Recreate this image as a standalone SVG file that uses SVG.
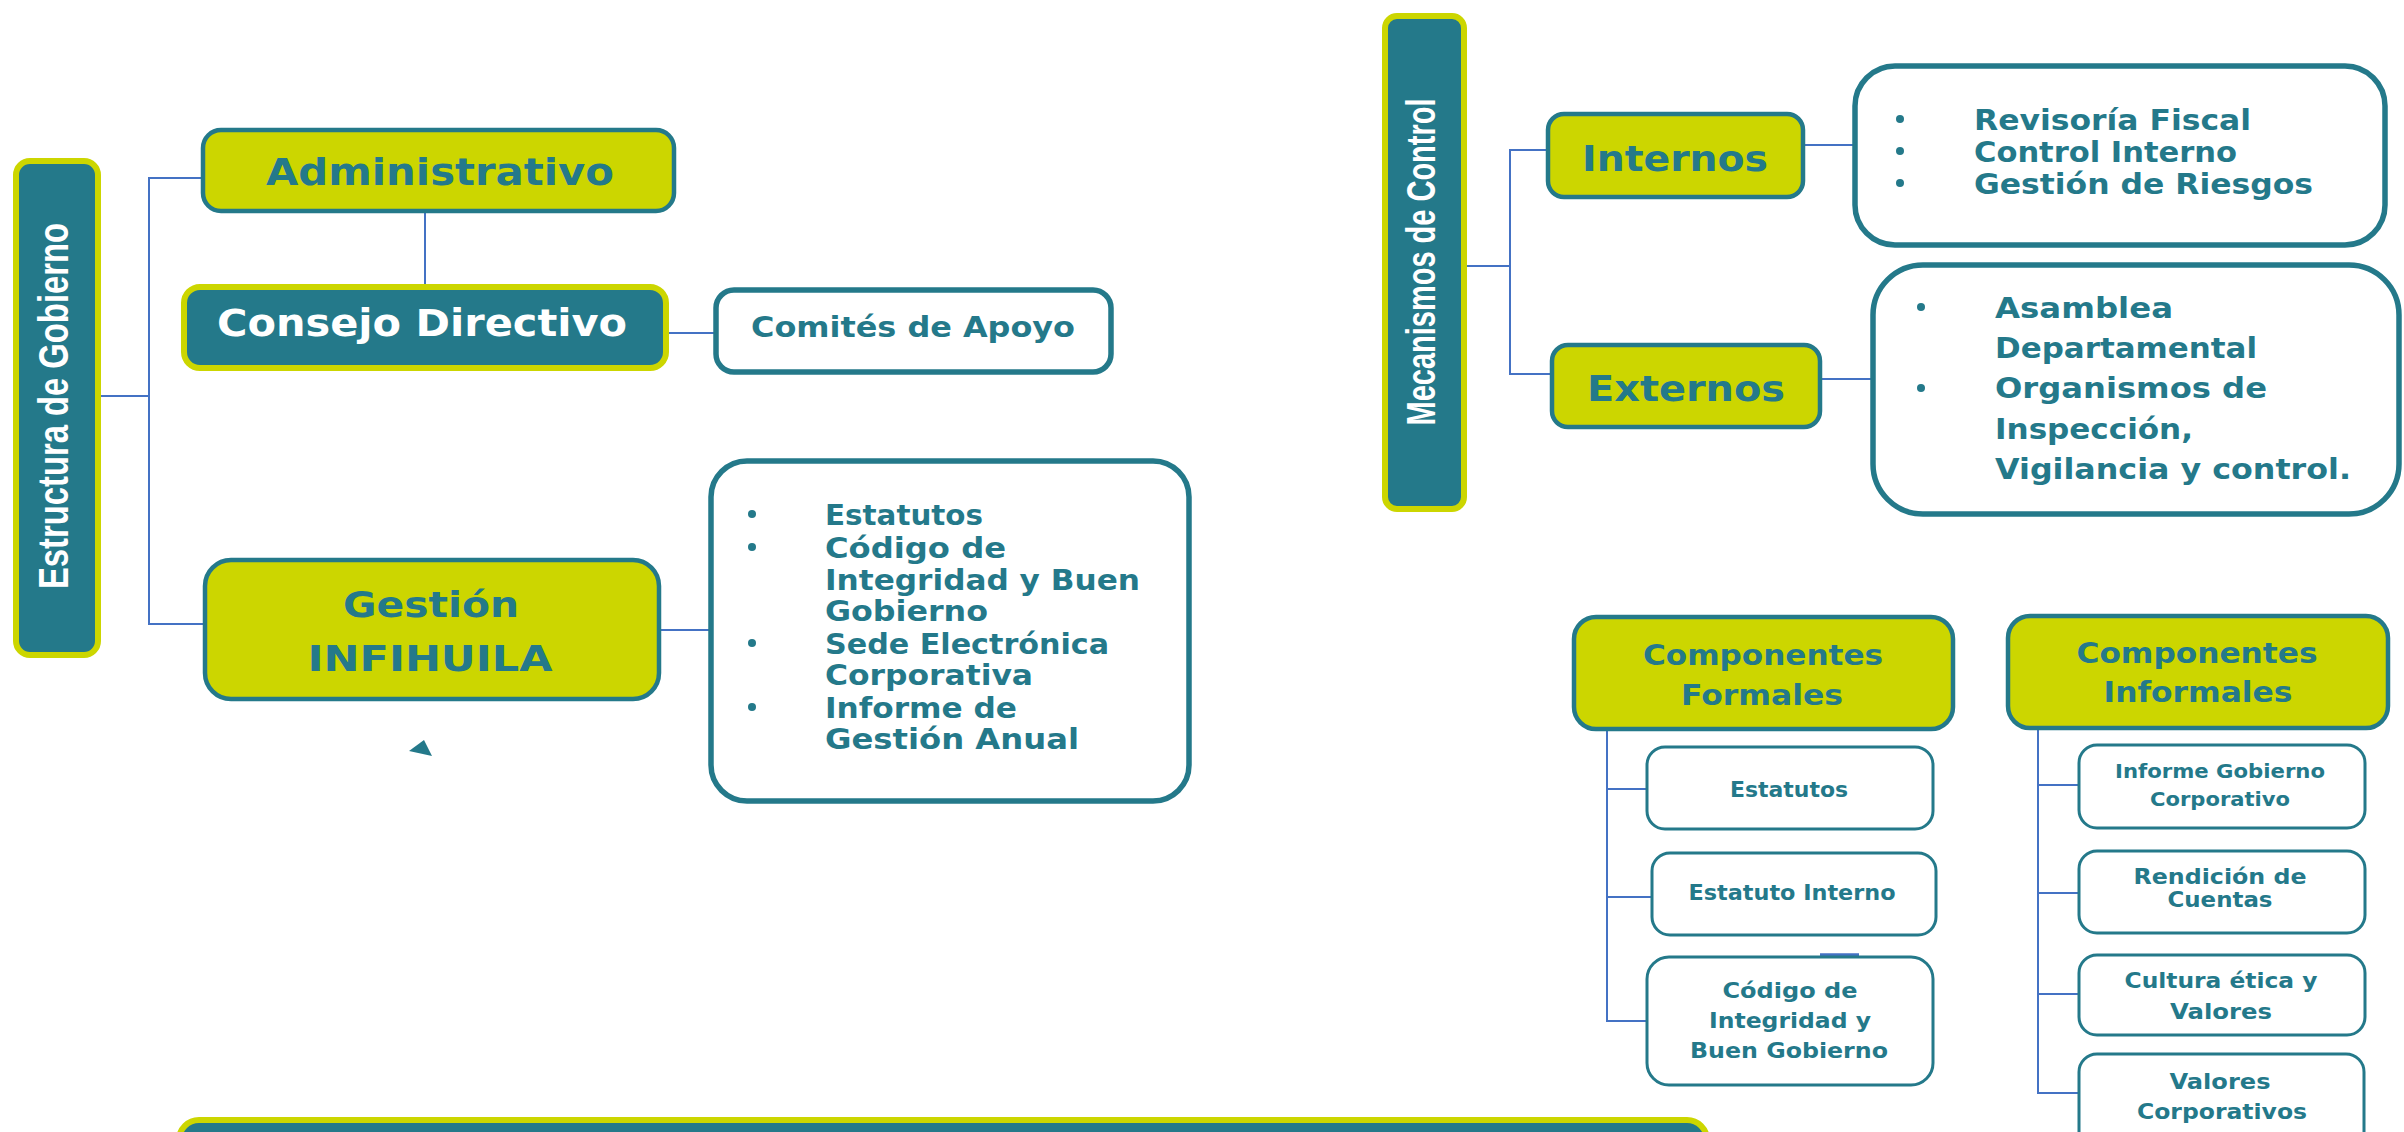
<svg xmlns="http://www.w3.org/2000/svg" width="2404" height="1132" viewBox="0 0 2404 1132">
<style>
.bg{fill:#ffffff}
.yb{fill:#CCD600;stroke:#24798A;stroke-width:4.5}
.tb{fill:#24798A;stroke:#CCD600;stroke-width:6}
.wb{fill:#ffffff;stroke:#24798A;stroke-width:5.5}
.sb{fill:#ffffff;stroke:#24798A;stroke-width:3}
.c{fill:none;stroke:#4472C4;stroke-width:2}
.t{font-family:"DejaVu Sans","Liberation Sans",sans-serif;font-weight:bold;fill:#24798A}
.w{font-family:"DejaVu Sans","Liberation Sans",sans-serif;font-weight:bold;fill:#ffffff}
.v{font-family:"Liberation Sans","DejaVu Sans",sans-serif;font-weight:bold;fill:#ffffff}
.m{text-anchor:middle}
.dot{fill:#24798A}
</style>
<rect class="bg" x="0" y="0" width="2404" height="1132"/>

<g id="connectors">
  <polyline class="c" points="100,396 149,396"/>
  <polyline class="c" points="203,178 149,178 149,624 204,624"/>
  <line class="c" x1="425" y1="212" x2="425" y2="286"/>
  <line class="c" x1="667" y1="333" x2="716" y2="333"/>
  <line class="c" x1="659" y1="630" x2="710" y2="630"/>
  <polyline class="c" points="1464,266 1510,266"/>
  <polyline class="c" points="1548,150 1510,150 1510,374 1552,374"/>
  <line class="c" x1="1803" y1="145" x2="1854" y2="145"/>
  <line class="c" x1="1820" y1="379" x2="1872" y2="379"/>
  <polyline class="c" points="1607,730 1607,1021 1647,1021"/>
  <line class="c" x1="1607" y1="789" x2="1647" y2="789"/>
  <line class="c" x1="1607" y1="897" x2="1652" y2="897"/>
  <polyline class="c" points="2038,728 2038,1093 2079,1093"/>
  <line class="c" x1="2038" y1="785" x2="2079" y2="785"/>
  <line class="c" x1="2038" y1="893" x2="2079" y2="893"/>
  <line class="c" x1="2038" y1="994" x2="2079" y2="994"/>
  <line x1="1820" y1="955" x2="1859" y2="955" stroke="#4472C4" stroke-width="3.5"/>
</g>

<g id="estructura-gobierno">
  <rect class="tb" x="16" y="161" width="82" height="494" rx="14"/>
  <text class="v m" transform="translate(68,406) rotate(-90)" font-size="42" textLength="366" lengthAdjust="spacingAndGlyphs">Estructura de Gobierno</text>
</g>

<g id="administrativo">
  <rect class="yb" x="203" y="130" width="471" height="81" rx="18"/>
  <text class="t m" x="440" y="185" font-size="38" textLength="348" lengthAdjust="spacingAndGlyphs">Administrativo</text>
</g>

<g id="consejo-directivo">
  <rect class="tb" x="184" y="287" width="482" height="81" rx="16"/>
  <text class="w m" x="422" y="336" font-size="37" textLength="410" lengthAdjust="spacingAndGlyphs">Consejo Directivo</text>
</g>

<g id="comites-apoyo">
  <rect class="wb" x="716" y="290" width="395" height="82" rx="18"/>
  <text class="t m" x="913" y="337" font-size="29" textLength="324" lengthAdjust="spacingAndGlyphs">Comités de Apoyo</text>
</g>

<g id="gestion-infihuila">
  <rect class="yb" x="205" y="560" width="454" height="139" rx="26"/>
  <text class="t m" x="431" y="617" font-size="36" textLength="176" lengthAdjust="spacingAndGlyphs">Gestión</text>
  <text class="t m" x="430" y="671" font-size="36" textLength="245" lengthAdjust="spacingAndGlyphs">INFIHUILA</text>
</g>

<g id="gestion-lista">
  <rect class="wb" x="711" y="461" width="478" height="340" rx="36" stroke-width="6"/>
  <circle class="dot" cx="752" cy="514" r="4"/>
  <circle class="dot" cx="752" cy="547" r="4"/>
  <circle class="dot" cx="752" cy="643" r="4"/>
  <circle class="dot" cx="752" cy="707" r="4"/>
  <text class="t" x="825" y="525" font-size="28" textLength="158" lengthAdjust="spacingAndGlyphs">Estatutos</text>
  <text class="t" x="825" y="558" font-size="28" textLength="181" lengthAdjust="spacingAndGlyphs">Código de</text>
  <text class="t" x="825" y="590" font-size="28" textLength="315" lengthAdjust="spacingAndGlyphs">Integridad y Buen</text>
  <text class="t" x="825" y="621" font-size="28" textLength="163" lengthAdjust="spacingAndGlyphs">Gobierno</text>
  <text class="t" x="825" y="654" font-size="28" textLength="284" lengthAdjust="spacingAndGlyphs">Sede Electrónica</text>
  <text class="t" x="825" y="685" font-size="28" textLength="208" lengthAdjust="spacingAndGlyphs">Corporativa</text>
  <text class="t" x="825" y="718" font-size="28" textLength="192" lengthAdjust="spacingAndGlyphs">Informe de</text>
  <text class="t" x="825" y="749" font-size="28" textLength="254" lengthAdjust="spacingAndGlyphs">Gestión Anual</text>
</g>

<g id="triangulo">
  <polygon points="409,751 424,740 432,756" fill="#24798A"/>
</g>

<g id="barra-inferior">
  <rect class="tb" x="179" y="1120" width="1528" height="60" rx="20" stroke-width="5"/>
</g>

<g id="mecanismos-control">
  <rect class="tb" x="1385" y="16" width="79" height="493" rx="12"/>
  <text class="v m" transform="translate(1435,262) rotate(-90)" font-size="40" textLength="327" lengthAdjust="spacingAndGlyphs">Mecanismos de Control</text>
</g>

<g id="internos">
  <rect class="yb" x="1548" y="114" width="255" height="83" rx="16"/>
  <text class="t m" x="1675" y="171" font-size="36" textLength="186" lengthAdjust="spacingAndGlyphs">Internos</text>
</g>

<g id="internos-lista">
  <rect class="wb" x="1855" y="66" width="530" height="179" rx="40" stroke-width="6"/>
  <circle class="dot" cx="1900" cy="119" r="4"/>
  <circle class="dot" cx="1900" cy="151" r="4"/>
  <circle class="dot" cx="1900" cy="183" r="4"/>
  <text class="t" x="1974" y="130" font-size="28" textLength="277" lengthAdjust="spacingAndGlyphs">Revisoría Fiscal</text>
  <text class="t" x="1974" y="162" font-size="28" textLength="263" lengthAdjust="spacingAndGlyphs">Control Interno</text>
  <text class="t" x="1974" y="194" font-size="28" textLength="339" lengthAdjust="spacingAndGlyphs">Gestión de Riesgos</text>
</g>

<g id="externos">
  <rect class="yb" x="1552" y="345" width="268" height="82" rx="16"/>
  <text class="t m" x="1686" y="401" font-size="36" textLength="198" lengthAdjust="spacingAndGlyphs">Externos</text>
</g>

<g id="externos-lista">
  <rect class="wb" x="1873" y="265" width="526" height="249" rx="50" stroke-width="6"/>
  <circle class="dot" cx="1921" cy="307" r="4"/>
  <circle class="dot" cx="1921" cy="388" r="4"/>
  <text class="t" x="1995" y="318" font-size="29" textLength="178" lengthAdjust="spacingAndGlyphs">Asamblea</text>
  <text class="t" x="1995" y="358" font-size="29" textLength="262" lengthAdjust="spacingAndGlyphs">Departamental</text>
  <text class="t" x="1995" y="398" font-size="29" textLength="272" lengthAdjust="spacingAndGlyphs">Organismos de</text>
  <text class="t" x="1995" y="439" font-size="29" textLength="198" lengthAdjust="spacingAndGlyphs">Inspección,</text>
  <text class="t" x="1995" y="479" font-size="29" textLength="356" lengthAdjust="spacingAndGlyphs">Vigilancia y control.</text>
</g>

<g id="componentes-formales">
  <rect class="yb" x="1574" y="617" width="379" height="112" rx="22"/>
  <text class="t m" x="1763" y="665" font-size="28" textLength="240" lengthAdjust="spacingAndGlyphs">Componentes</text>
  <text class="t m" x="1762" y="705" font-size="28" textLength="162" lengthAdjust="spacingAndGlyphs">Formales</text>
</g>

<g id="componentes-informales">
  <rect class="yb" x="2008" y="616" width="380" height="112" rx="22"/>
  <text class="t m" x="2197" y="663" font-size="28" textLength="241" lengthAdjust="spacingAndGlyphs">Componentes</text>
  <text class="t m" x="2198" y="702" font-size="28" textLength="189" lengthAdjust="spacingAndGlyphs">Informales</text>
</g>

<g id="estatutos">
  <rect class="sb" x="1647" y="747" width="286" height="82" rx="18"/>
  <text class="t m" x="1789" y="797" font-size="22" textLength="118" lengthAdjust="spacingAndGlyphs">Estatutos</text>
</g>

<g id="estatuto-interno">
  <rect class="sb" x="1652" y="853" width="284" height="82" rx="18"/>
  <text class="t m" x="1792" y="900" font-size="22" textLength="207" lengthAdjust="spacingAndGlyphs">Estatuto Interno</text>
</g>

<g id="codigo-integridad">
  <rect class="sb" x="1647" y="957" width="286" height="128" rx="22"/>
  <text class="t m" x="1790" y="998" font-size="22" textLength="135" lengthAdjust="spacingAndGlyphs">Código de</text>
  <text class="t m" x="1790" y="1028" font-size="22" textLength="162" lengthAdjust="spacingAndGlyphs">Integridad y</text>
  <text class="t m" x="1789" y="1058" font-size="22" textLength="198" lengthAdjust="spacingAndGlyphs">Buen Gobierno</text>
</g>

<g id="informe-gobierno">
  <rect class="sb" x="2079" y="745" width="286" height="83" rx="18"/>
  <text class="t m" x="2220" y="778" font-size="19" textLength="210" lengthAdjust="spacingAndGlyphs">Informe Gobierno</text>
  <text class="t m" x="2220" y="806" font-size="19" textLength="140" lengthAdjust="spacingAndGlyphs">Corporativo</text>
</g>

<g id="rendicion-cuentas">
  <rect class="sb" x="2079" y="851" width="286" height="82" rx="18"/>
  <text class="t m" x="2220" y="884" font-size="21" textLength="173" lengthAdjust="spacingAndGlyphs">Rendición de</text>
  <text class="t m" x="2220" y="907" font-size="21" textLength="105" lengthAdjust="spacingAndGlyphs">Cuentas</text>
</g>

<g id="cultura-etica">
  <rect class="sb" x="2079" y="955" width="286" height="80" rx="18"/>
  <text class="t m" x="2221" y="988" font-size="21" textLength="193" lengthAdjust="spacingAndGlyphs">Cultura ética y</text>
  <text class="t m" x="2221" y="1019" font-size="21" textLength="102" lengthAdjust="spacingAndGlyphs">Valores</text>
</g>

<g id="valores-corporativos">
  <rect class="sb" x="2079" y="1054" width="285" height="100" rx="18"/>
  <text class="t m" x="2220" y="1089" font-size="21" textLength="101" lengthAdjust="spacingAndGlyphs">Valores</text>
  <text class="t m" x="2222" y="1119" font-size="21" textLength="170" lengthAdjust="spacingAndGlyphs">Corporativos</text>
</g>
</svg>
